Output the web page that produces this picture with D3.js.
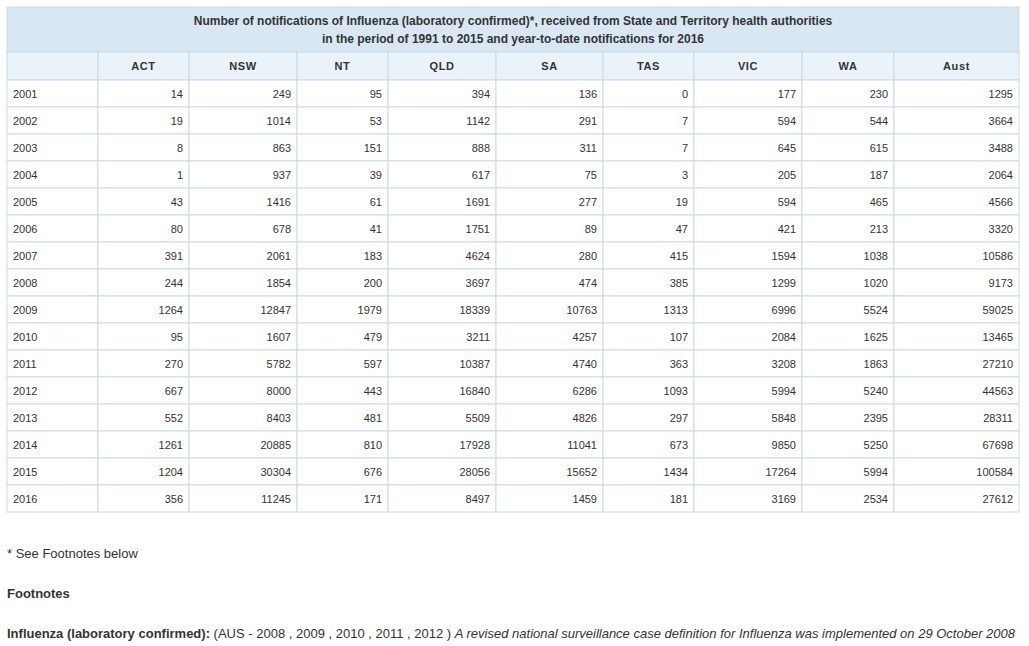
<!DOCTYPE html>
<html>
<head>
<meta charset="utf-8">
<script src="https://cdn.jsdelivr.net/npm/d3@7"></script>
<style>
  body { margin: 0; background: #fff; font-family: Arial, "Liberation Sans", sans-serif; color: #333; }
  svg text { fill: #333; }
</style>
</head>
<body>
<div id="table"></div>
<script>
// table data
var titleLines = [
  "Number of notifications of Influenza (laboratory confirmed)*, received from State and Territory health authorities",
  "in the period of 1991 to 2015 and year-to-date notifications for 2016"
];
var columns = ["", "ACT", "NSW", "NT", "QLD", "SA", "TAS", "VIC", "WA", "Aust"];
var years = ["2001", "2002", "2003", "2004", "2005", "2006", "2007", "2008",
             "2009", "2010", "2011", "2012", "2013", "2014", "2015", "2016"];
var act  = [14, 19, 8, 1, 43, 80, 391, 244, 1264, 95, 270, 667, 552, 1261, 1204, 356];
var nsw  = [249, 1014, 863, 937, 1416, 678, 2061, 1854, 12847, 1607, 5782, 8000, 8403, 20885, 30304, 11245];
var nt   = [95, 53, 151, 39, 61, 41, 183, 200, 1979, 479, 597, 443, 481, 810, 676, 171];
var qld  = [394, 1142, 888, 617, 1691, 1751, 4624, 3697, 18339, 3211, 10387, 16840, 5509, 17928, 28056, 8497];
var sa   = [136, 291, 311, 75, 277, 89, 280, 474, 10763, 4257, 4740, 6286, 4826, 11041, 15652, 1459];
var tas  = [0, 7, 7, 3, 19, 47, 415, 385, 1313, 107, 363, 1093, 297, 673, 1434, 181];
var vic  = [177, 594, 645, 205, 594, 421, 1594, 1299, 6996, 2084, 3208, 5994, 5848, 9850, 17264, 3169];
var wa   = [230, 544, 615, 187, 465, 213, 1038, 1020, 5524, 1625, 1863, 5240, 2395, 5250, 5994, 2534];
var aust = [1295, 3664, 3488, 2064, 4566, 3320, 10586, 9173, 59025, 13465, 27210, 44563, 28311, 67698, 100584, 27612];
var series = [act, nsw, nt, qld, sa, tas, vic, wa, aust];

// layout
var colWidths = [91, 91, 108, 91, 108, 107, 91, 108, 92, 125];
var tableLeft = 7, tableTop = 7,
    titleHeight = 45, headHeight = 28, rowHeight = 27,
    pageWidth = 1029, pageHeight = 646;

var colEdges = [tableLeft];
colWidths.forEach(function(w) { colEdges.push(colEdges[colEdges.length - 1] + w); });
var tableRight = colEdges[colEdges.length - 1];

var x = d3.scaleOrdinal()
    .domain(columns)
    .range(colEdges.slice(0, -1));

var rowsTop = tableTop + titleHeight + headHeight;
var y = d3.scaleBand()
    .domain(years)
    .range([rowsTop, rowsTop + rowHeight * years.length]);

var borderColor = "#c9dbe8";

var svg = d3.select("#table")
  .append("svg")
    .attr("width", pageWidth)
    .attr("height", pageHeight);

// title row
svg.append("rect")
    .attr("x", tableLeft).attr("y", tableTop)
    .attr("width", tableRight - tableLeft).attr("height", titleHeight)
    .attr("fill", "#d8e7f2")
    .attr("stroke", borderColor);

svg.selectAll(".title")
    .data(titleLines)
  .enter().append("text")
    .attr("class", "title")
    .attr("x", (tableLeft + tableRight) / 2)
    .attr("y", function(d, i) { return tableTop + 18 + i * 18; })
    .attr("text-anchor", "middle")
    .style("font-size", "12px")
    .style("font-weight", "bold")
    .text(function(d) { return d; });

// header row
var headTop = tableTop + titleHeight;
svg.selectAll(".head")
    .data(columns)
  .enter().append("rect")
    .attr("class", "head")
    .attr("x", function(d) { return x(d); })
    .attr("y", headTop)
    .attr("width", function(d, i) { return colWidths[i]; })
    .attr("height", headHeight)
    .attr("fill", "#eaf3fa")
    .attr("stroke", borderColor);

svg.selectAll(".headLabel")
    .data(columns.slice(1))
  .enter().append("text")
    .attr("class", "headLabel")
    .attr("x", function(d, i) { return x(d) + colWidths[i + 1] / 2; })
    .attr("y", headTop + headHeight / 2 + 4)
    .attr("text-anchor", "middle")
    .style("font-size", "11px")
    .style("font-weight", "bold")
    .style("letter-spacing", "0.6px")
    .text(function(d) { return d; });

// body rows
var rows = svg.selectAll(".row")
    .data(years)
  .enter().append("g")
    .attr("class", "row")
    .attr("transform", function(d) { return "translate(0," + y(d) + ")"; });

rows.selectAll("rect")
    .data(columns)
  .enter().append("rect")
    .attr("x", function(d) { return x(d); })
    .attr("width", function(d, i) { return colWidths[i]; })
    .attr("height", y.bandwidth())
    .attr("fill", "#fff")
    .attr("stroke", borderColor);

rows.append("text")
    .attr("x", tableLeft + 6)
    .attr("y", y.bandwidth() / 2 + 4)
    .style("font-size", "11px")
    .text(function(d) { return d; });

rows.selectAll(".val")
    .data(function(d, r) { return series.map(function(s, c) { return { col: columns[c + 1], c: c + 1, v: s[r] }; }); })
  .enter().append("text")
    .attr("class", "val")
    .attr("x", function(d) { return x(d.col) + colWidths[d.c] - 6; })
    .attr("y", y.bandwidth() / 2 + 4)
    .attr("text-anchor", "end")
    .style("font-size", "11px")
    .text(function(d) { return d.v; });

// footnotes
var tableBottom = y.range()[1];
svg.append("text")
    .attr("x", tableLeft)
    .attr("y", tableBottom + 46)
    .style("font-size", "13px")
    .text("* See Footnotes below");

svg.append("text")
    .attr("x", tableLeft)
    .attr("y", tableBottom + 86)
    .style("font-size", "13px")
    .style("font-weight", "bold")
    .text("Footnotes");

var note = svg.append("text")
    .attr("x", tableLeft)
    .attr("y", tableBottom + 126)
    .style("font-size", "13px");
note.append("tspan").style("font-weight", "bold").text("Influenza (laboratory confirmed):");
note.append("tspan").text(" (AUS - 2008 , 2009 , 2010 , 2011 , 2012 ) ");
note.append("tspan").style("font-style", "italic")
    .text("A revised national surveillance case definition for Influenza was implemented on 29 October 2008");
</script>
</body>
</html>
